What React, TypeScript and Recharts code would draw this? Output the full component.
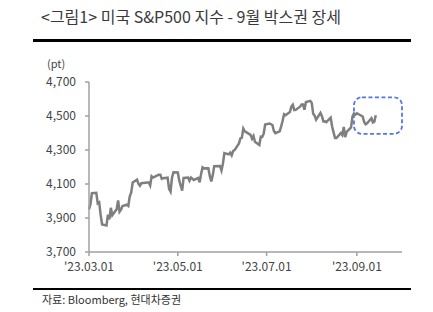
import { LineChart, Line, XAxis, YAxis, ReferenceArea } from 'recharts'

// S&P500 daily closes, 2023.03.01 ~ 2023.09.14
const dates = [
  '03.01', '03.02', '03.03', '03.06', '03.07', '03.08', '03.09', '03.10', '03.13', '03.14',
  '03.15', '03.16', '03.17', '03.20', '03.21', '03.22', '03.23', '03.24', '03.27', '03.28',
  '03.29', '03.30', '03.31', '04.03', '04.04', '04.05', '04.06', '04.10', '04.11', '04.12',
  '04.13', '04.14', '04.17', '04.18', '04.19', '04.20', '04.21', '04.24', '04.25', '04.26',
  '04.27', '04.28', '05.01', '05.02', '05.03', '05.04', '05.05', '05.08', '05.09', '05.10',
  '05.11', '05.12', '05.15', '05.16', '05.17', '05.18', '05.19', '05.22', '05.23', '05.24',
  '05.25', '05.26', '05.30', '05.31', '06.01', '06.02', '06.05', '06.06', '06.07', '06.08',
  '06.09', '06.12', '06.13', '06.14', '06.15', '06.16', '06.20', '06.21', '06.22', '06.23',
  '06.26', '06.27', '06.28', '06.29', '06.30', '07.03', '07.05', '07.06', '07.07', '07.10',
  '07.11', '07.12', '07.13', '07.14', '07.17', '07.18', '07.19', '07.20', '07.21', '07.24',
  '07.25', '07.26', '07.27', '07.28', '07.31', '08.01', '08.02', '08.03', '08.04', '08.07',
  '08.08', '08.09', '08.10', '08.11', '08.14', '08.15', '08.16', '08.17', '08.18', '08.21',
  '08.22', '08.23', '08.24', '08.25', '08.28', '08.29', '08.30', '08.31', '09.01', '09.05',
  '09.06', '09.07', '09.08', '09.11', '09.12', '09.13', '09.14',
]

const closes = [
  3951, 3981, 4046, 4048, 3986, 3992, 3918, 3862, 3856, 3919,
  3892, 3960, 3917, 3952, 4003, 3937, 3949, 3971, 3978, 3971,
  4028, 4051, 4109, 4125, 4101, 4090, 4105, 4109, 4109, 4092,
  4146, 4138, 4151, 4155, 4155, 4130, 4134, 4137, 4072, 4056,
  4135, 4169, 4168, 4120, 4091, 4061, 4136, 4138, 4119, 4138,
  4131, 4124, 4136, 4110, 4159, 4198, 4192, 4193, 4146, 4115,
  4151, 4205, 4206, 4180, 4221, 4282, 4274, 4284, 4268, 4294,
  4299, 4339, 4369, 4373, 4426, 4410, 4389, 4366, 4382, 4348,
  4329, 4378, 4377, 4396, 4450, 4456, 4447, 4412, 4399, 4410,
  4439, 4472, 4510, 4505, 4523, 4555, 4566, 4535, 4536, 4555,
  4567, 4567, 4537, 4582, 4589, 4577, 4513, 4502, 4478, 4518,
  4499, 4468, 4469, 4464, 4490, 4438, 4404, 4370, 4370, 4400,
  4388, 4436, 4376, 4406, 4433, 4498, 4515, 4508, 4516, 4497,
  4465, 4451, 4457, 4487, 4462, 4467, 4505,
]

const yTicks = [3700, 3900, 4100, 4300, 4500, 4700]
const xTickLabels = ["'23.03.01", "'23.05.01", "'23.07.01", "'23.09.01"]
const xTickDates = ['03.01', '05.01', '07.01', '09.01']

// september box range
const boxFrom = '08.30'
const boxTo = '10.02'
const boxLow = 4395
const boxHigh = 4610

const dayOf = (md: string) => {
  const [m, d] = md.split('.').map(Number)
  return Math.round((Date.UTC(2023, m - 1, d) - Date.UTC(2023, 2, 1)) / 86400000)
}

const data = dates.map((d, i) => ({ day: dayOf(d), value: closes[i] }))
const xTicks = xTickDates.map(dayOf)

const font = '"Noto Sans CJK KR", "Noto Sans", sans-serif'

const RoundBox = (props: any) => {
  const { x, y, width, height } = props
  return (
    <rect
      x={x}
      y={y}
      width={width}
      height={height}
      rx={8}
      ry={8}
      fill='none'
      stroke='#5673ee'
      strokeWidth={1.8}
      strokeDasharray='4 2.5'
    />
  )
}

export default function App() {
  return (
    <div style={{ position: 'absolute', left: 0, top: 0, width: 433, height: 312, background: '#fff', fontFamily: font }}>
      <div style={{ position: 'absolute', left: 41, top: 6, fontSize: 16, lineHeight: '20px', color: '#3a3a3a', whiteSpace: 'nowrap' }}>
        &lt;그림1&gt; 미국 S&amp;P500 지수 - 9월 박스권 장세
      </div>
      <div style={{ position: 'absolute', left: 33, top: 39, width: 378, height: 3, background: '#000' }} />
      <div style={{ position: 'absolute', left: 47, top: 58, fontSize: 11, lineHeight: '11px', color: '#444' }}>(pt)</div>

      <div style={{ position: 'absolute', left: 0, top: 0 }}>
        <LineChart width={433} height={312} data={data} margin={{ top: 82, right: 31, bottom: 30, left: 39 }}>
          <XAxis
            dataKey='day'
            type='number'
            domain={[0, 215]}
            ticks={xTicks}
            tickFormatter={(v: number) => xTickLabels[xTicks.indexOf(v)]}
            tick={{ fill: '#444', fontSize: 12, fontFamily: font }}
            tickSize={4}
            tickMargin={6}
            stroke='#a0a0a0'
            strokeWidth={1.5}
            height={30}
          />
          <YAxis
            domain={[3700, 4700]}
            ticks={yTicks}
            tickFormatter={(v: number) => v.toLocaleString('en-US')}
            tick={{ fill: '#444', fontSize: 12, fontFamily: font }}
            tickSize={4}
            tickMargin={9}
            stroke='#a0a0a0'
            strokeWidth={1.5}
            width={50}
            interval={0}
          />
          <Line
            dataKey='value'
            stroke='#7f7f7f'
            strokeWidth={2.5}
            dot={false}
            isAnimationActive={false}
          />
          <ReferenceArea
            x1={dayOf(boxFrom)}
            x2={dayOf(boxTo)}
            y1={boxLow}
            y2={boxHigh}
            shape={RoundBox}
          />
        </LineChart>
      </div>

      <div style={{ position: 'absolute', left: 33, top: 288, width: 378, height: 2, background: '#000' }} />
      <div style={{ position: 'absolute', left: 42, top: 292, fontSize: 11, lineHeight: '15px', color: '#333', whiteSpace: 'nowrap' }}>
        자료: Bloomberg, 현대차증권
      </div>
    </div>
  )
}
